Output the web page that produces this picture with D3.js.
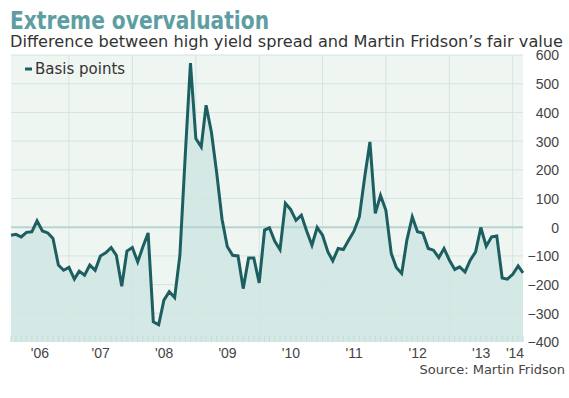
<!DOCTYPE html>
<html>
<head>
<meta charset="utf-8">
<script src="https://cdn.jsdelivr.net/npm/d3@7"></script>
<style>
  html, body { margin: 0; padding: 0; background: #fff; }
  svg { display: block; }
  .tick-label { font-family: "Liberation Sans", Arial, sans-serif; font-size: 14px; fill: #444; }
</style>
</head>
<body>
<svg id="chart" width="569" height="398"></svg>
<script>
// monthly readings, first month is Feb 2006
const startMonth = new Date(2006, 1, 1);
const basisPoints = [
  /* 2006 */ -28, -25, -34, -18, -16, 22, -13, -20, -39, -132, -150,
  /* 2007 */ -140, -181, -153, -167, -132, -150, -100, -89, -71, -98, -206, -83,
  /* 2008 */ -71, -121, -70, -20, -330, -340, -254, -225, -245, -98, 250, 572,
  /* 2009 */ 309, 280, 425, 330, 190, 28, -67, -98, -100, -214, -107, -107,
  /* 2010 */ -194, -10, -2, -49, -78, 83, 62, 24, 42, -12, -63, -1,
  /* 2011 */ -28, -86, -117, -74, -78, -45, -14, 36, 175, 297, 48, 111,
  /* 2012 */ 59, -92, -140, -161, -45, 36, -16, -20, -74, -80, -106, -74,
  /* 2013 */ -115, -147, -138, -156, -115, -86, -1, -66, -34, -31, -177, -181,
  /* 2014 */ -164, -135, -159
];
const yearLabels = ["'06", "'07", "'08", "'09", "'10", "'11", "'12", "'13", "'14"];
const yTicks = [600, 500, 400, 300, 200, 100, 0, -100, -200, -300, -400];

const data = basisPoints.map((v, i) => ({ date: d3.timeMonth.offset(startMonth, i), value: v }));

const plot = { left: 11, right: 523, top: 55, bottom: 342 };

const x = d3.scaleTime()
  .domain(d3.extent(data, d => d.date))
  .range([plot.left, plot.right]);

const y = d3.scaleLinear()
  .domain([-400, 600])
  .range([plot.bottom, plot.top]);

const svg = d3.select('#chart');

// title + subtitle
svg.append('text')
  .attr('x', 10).attr('y', 29)
  .attr('textLength', 259).attr('lengthAdjust', 'spacingAndGlyphs')
  .style('font-family', '"Liberation Sans Narrow", "DejaVu Sans Condensed", "Liberation Sans", sans-serif')
  .style('font-weight', 'bold').style('font-size', '24px')
  .style('fill', '#5e9ea3')
  .text('Extreme overvaluation');

svg.append('text')
  .attr('x', 10).attr('y', 47)
  .attr('textLength', 553).attr('lengthAdjust', 'spacingAndGlyphs')
  .style('font-family', '"DejaVu Sans", Verdana, sans-serif')
  .style('font-size', '15px').style('fill', '#333')
  .text('Difference between high yield spread and Martin Fridson\u2019s fair value');

// plot background
svg.append('rect')
  .attr('x', plot.left).attr('y', plot.top)
  .attr('width', plot.right - plot.left).attr('height', plot.bottom - plot.top)
  .attr('fill', '#eff5f1');

// area under the line
svg.append('path')
  .datum(data)
  .attr('fill', '#d4e9e6')
  .attr('d', d3.area().x(d => x(d.date)).y0(y(-400)).y1(d => y(d.value)));

// horizontal grid
svg.append('g')
  .selectAll('line')
  .data(yTicks.filter(t => t !== 0 && t !== -400))
  .join('line')
  .attr('x1', plot.left).attr('x2', plot.right)
  .attr('y1', d => y(d)).attr('y2', d => y(d))
  .attr('stroke', '#d3e5e1').attr('stroke-width', 1);

// vertical grid at year starts
const yearStarts = d3.timeYear.range(new Date(2007, 0, 1), new Date(2014, 0, 2));
svg.append('g')
  .selectAll('line')
  .data(yearStarts)
  .join('line')
  .attr('x1', d => x(d)).attr('x2', d => x(d))
  .attr('y1', plot.top).attr('y2', plot.bottom)
  .attr('stroke', '#d3e5e1').attr('stroke-width', 1);

// zero line
svg.append('line')
  .attr('x1', plot.left).attr('x2', plot.right)
  .attr('y1', y(0)).attr('y2', y(0))
  .attr('stroke', '#b8d4d0').attr('stroke-width', 2);

// monthly minor ticks along the bottom
svg.append('g')
  .selectAll('line')
  .data(data)
  .join('line')
  .attr('x1', d => x(d.date)).attr('x2', d => x(d.date))
  .attr('y1', plot.bottom - 6).attr('y2', plot.bottom)
  .attr('stroke', '#c6dcd8').attr('stroke-width', 1);

// series line
svg.append('path')
  .datum(data)
  .attr('fill', 'none')
  .attr('stroke', '#1d5e60')
  .attr('stroke-width', 3)
  .attr('stroke-linejoin', 'miter')
  .attr('d', d3.line().x(d => x(d.date)).y(d => y(d.value)));

// y axis labels on the right
const yAxis = d3.axisRight(y).tickValues(yTicks).tickSize(0).tickPadding(0);
const yg = svg.append('g')
  .attr('transform', `translate(${plot.right}, 0)`)
  .call(yAxis);
yg.select('.domain').remove();
yg.selectAll('text')
  .attr('class', 'tick-label')
  .attr('x', 559 - plot.right)
  .attr('text-anchor', 'end')
  .attr('dy', '0.35em');

// year labels centred inside each year span
const yearSpans = yearLabels.map((label, i) => {
  const y0 = Math.max(new Date(2006 + i, 0, 1), x.domain()[0]);
  const y1 = Math.min(new Date(2007 + i, 0, 1), x.domain()[1]);
  return { label, mid: (x(y0) + x(y1)) / 2 };
});
svg.append('g')
  .selectAll('text')
  .data(yearSpans)
  .join('text')
  .attr('class', 'tick-label')
  .attr('x', d => Math.min(d.mid, 515))
  .attr('y', 358)
  .attr('text-anchor', 'middle')
  .text(d => d.label);

// legend
svg.append('line')
  .attr('x1', 25).attr('x2', 32)
  .attr('y1', 69).attr('y2', 69)
  .attr('stroke', '#1d5e60').attr('stroke-width', 3);
svg.append('text')
  .attr('x', 35).attr('y', 74)
  .style('font-family', '"DejaVu Sans", Verdana, sans-serif')
  .style('font-size', '15px').style('fill', '#333')
  .text('Basis points');

// source
svg.append('text')
  .attr('x', 565).attr('y', 374)
  .attr('text-anchor', 'end')
  .style('font-family', '"DejaVu Sans", Verdana, sans-serif')
  .style('font-size', '13px').style('fill', '#444')
  .text('Source: Martin Fridson');
</script>
</body>
</html>
